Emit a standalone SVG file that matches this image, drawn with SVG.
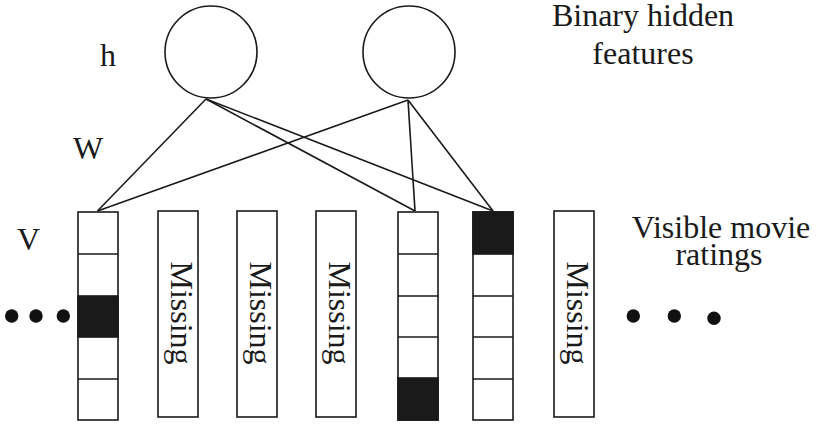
<svg xmlns="http://www.w3.org/2000/svg" width="816" height="424" viewBox="0 0 816 424">
<style>
.t{font-family:"Liberation Serif","Times New Roman",serif;font-size:32px;fill:#1a1a1a}
.c{fill:#fff;stroke:#1a1a1a;stroke-width:1.6}
.col{fill:#fff;stroke:#1a1a1a;stroke-width:1.6}
.blk{fill:#1a1a1a;stroke:#1a1a1a;stroke-width:1.6}
.sep{stroke:#1a1a1a;stroke-width:1.6}
.ln{stroke:#1a1a1a;stroke-width:1.6;fill:none}
.dot{fill:#111}
</style>
<rect width="816" height="424" fill="#fff"/>
<g id="connectors">
<line class="ln" x1="206" y1="99" x2="97.5" y2="211"/>
<line class="ln" x1="206" y1="99" x2="415" y2="211"/>
<line class="ln" x1="206" y1="99" x2="493" y2="211"/>
<line class="ln" x1="408" y1="100" x2="97.5" y2="211"/>
<line class="ln" x1="408" y1="100" x2="415" y2="211"/>
<line class="ln" x1="408" y1="100" x2="493" y2="211"/>
</g>
<g id="hidden1"><circle class="c" cx="211" cy="52" r="46"/></g>
<g id="hidden2"><circle class="c" cx="409" cy="52" r="46"/></g>
<g id="col1">
<rect class="col" x="78" y="212" width="40" height="208"/>
<rect class="blk" x="78" y="296" width="40" height="41"/>
<line class="sep" x1="78" y1="254" x2="118" y2="254"/>
<line class="sep" x1="78" y1="379" x2="118" y2="379"/>
</g>
<g id="col2">
<rect class="col" x="158" y="211" width="40" height="206"/>
<text class="t" transform="translate(171,313) rotate(90)" text-anchor="middle">Missing</text>
</g>
<g id="col3">
<rect class="col" x="237" y="211" width="40" height="206"/>
<text class="t" transform="translate(250,313) rotate(90)" text-anchor="middle">Missing</text>
</g>
<g id="col4">
<rect class="col" x="316" y="211" width="40" height="206"/>
<text class="t" transform="translate(329,313) rotate(90)" text-anchor="middle">Missing</text>
</g>
<g id="col5">
<rect class="col" x="398" y="212" width="40" height="208"/>
<rect class="blk" x="398" y="378" width="40" height="42"/>
<line class="sep" x1="398" y1="254" x2="438" y2="254"/>
<line class="sep" x1="398" y1="296" x2="438" y2="296"/>
<line class="sep" x1="398" y1="337" x2="438" y2="337"/>
</g>
<g id="col6">
<rect class="col" x="473" y="212" width="40" height="208"/>
<rect class="blk" x="473" y="212" width="40" height="42"/>
<line class="sep" x1="473" y1="296" x2="513" y2="296"/>
<line class="sep" x1="473" y1="337" x2="513" y2="337"/>
<line class="sep" x1="473" y1="379" x2="513" y2="379"/>
</g>
<g id="col7">
<rect class="col" x="554" y="211" width="40" height="206"/>
<text class="t" transform="translate(567,313) rotate(90)" text-anchor="middle">Missing</text>
</g>
<g id="labels">
<text class="t" x="100" y="66">h</text>
<text class="t" x="73" y="159">W</text>
<text class="t" x="17" y="250">V</text>
<text class="t" x="643" y="26" text-anchor="middle">Binary hidden</text>
<text class="t" x="643" y="64" text-anchor="middle">features</text>
<text class="t" x="721" y="238" text-anchor="middle">Visible movie</text>
<text class="t" x="719" y="265" text-anchor="middle">ratings</text>
</g>
<g id="dots">
<circle class="dot" cx="11.7" cy="316" r="6.7"/>
<circle class="dot" cx="36" cy="316" r="6.7"/>
<circle class="dot" cx="63.3" cy="316" r="6.7"/>
<circle class="dot" cx="633.3" cy="316" r="6.7"/>
<circle class="dot" cx="674.3" cy="316" r="6.7"/>
<circle class="dot" cx="714" cy="318.3" r="6.7"/>
</g>
</svg>
